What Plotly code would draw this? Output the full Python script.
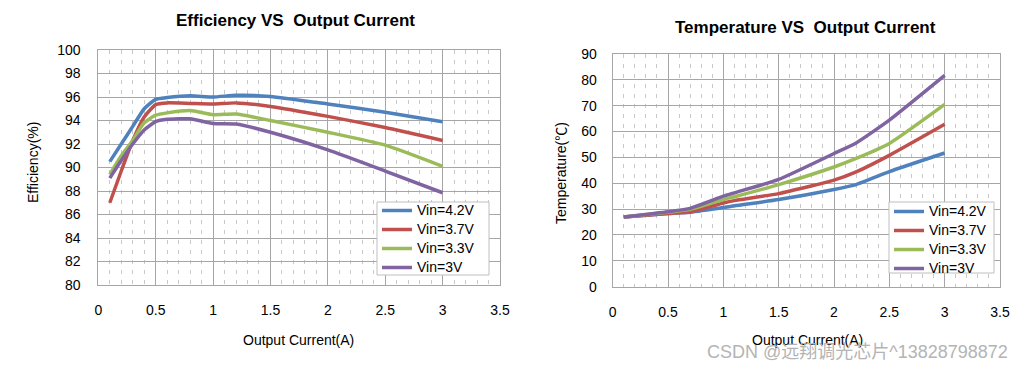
import plotly.graph_objects as go

# ---------------- data ----------------
eff_current = [0.1, 0.2, 0.3, 0.4, 0.5, 0.6, 0.8, 1.0, 1.2, 1.5, 2.0, 2.5, 3.0]
eff_42 = [90.5, 92.0, 93.5, 95.0, 95.8, 95.95, 96.1, 96.0, 96.15, 96.05, 95.4, 94.7, 93.9]
eff_37 = [87.0, 89.7, 92.3, 94.3, 95.35, 95.5, 95.45, 95.4, 95.5, 95.2, 94.35, 93.4, 92.3]
eff_33 = [89.4, 91.0, 92.3, 93.8, 94.45, 94.65, 94.85, 94.5, 94.55, 94.0, 93.0, 91.9, 90.1]
eff_30 = [89.1, 90.6, 92.0, 93.2, 93.9, 94.1, 94.15, 93.75, 93.7, 93.0, 91.5, 89.7, 87.85]

temp_current = [0.1, 0.5, 0.7, 1.0, 1.1, 1.5, 2.0, 2.2, 2.5, 3.0]
temp_42 = [27.0, 28.3, 28.8, 30.6, 31.3, 33.7, 37.6, 39.5, 44.5, 51.7]
temp_37 = [27.0, 28.3, 29.0, 32.4, 33.3, 36.0, 41.2, 44.4, 50.8, 62.8]
temp_33 = [27.0, 28.8, 29.9, 33.7, 34.8, 39.5, 46.3, 49.6, 55.4, 70.5]
temp_30 = [27.0, 29.0, 30.3, 35.0, 36.3, 41.5, 51.5, 55.6, 64.4, 81.7]

series_names = ["Vin=4.2V", "Vin=3.7V", "Vin=3.3V", "Vin=3V"]
series_colors = ["#4F81BD", "#C0504D", "#9BBB59", "#8064A2"]
x_ticks = [0, 0.5, 1, 1.5, 2, 2.5, 3, 3.5]
x_tick_labels = ["0", "0.5", "1", "1.5", "2", "2.5", "3", "3.5"]

FONT = "Arial, Liberation Sans, sans-serif"
W, H = 1025, 371

fig = go.Figure()

def legend_label(name):
    return '<span style="font-size:14px">' + name + "</span>"

for name, col, ys in zip(series_names, series_colors, [eff_42, eff_37, eff_33, eff_30]):
    fig.add_trace(go.Scatter(x=eff_current, y=ys, name=legend_label(name), mode="lines",
                             line=dict(color=col, width=3.5, shape="spline", smoothing=0.5),
                             xaxis="x", yaxis="y", legend="legend"))
for name, col, ys in zip(series_names, series_colors, [temp_42, temp_37, temp_33, temp_30]):
    fig.add_trace(go.Scatter(x=temp_current, y=ys, name=legend_label(name), mode="lines",
                             line=dict(color=col, width=3.5, shape="spline", smoothing=0.5),
                             xaxis="x2", yaxis="y2", legend="legend2"))

def xaxis(domain, anchor):
    return dict(domain=domain, anchor=anchor, range=[0, 3.5], tickvals=x_ticks,
                ticktext=x_tick_labels, showgrid=True, gridcolor="#A6A6A6", gridwidth=1,
                showline=True, linecolor="#A6A6A6", mirror=True, zeroline=False,
                ticks="", ticklabelstandoff=12, automargin=False,
                tickfont=dict(family=FONT, size=14, color="#000"),
                minor=dict(dtick=0.1, tick0=0, showgrid=True, gridcolor="#C8C8C8",
                           griddash="4px,6px", gridwidth=1))

def yaxis(domain, anchor, rng, dtick, standoff):
    return dict(domain=domain, anchor=anchor, range=rng, dtick=dtick, showgrid=True,
                gridcolor="#A6A6A6", gridwidth=1, showline=True, linecolor="#A6A6A6",
                mirror=True, zeroline=False, ticks="", ticklabelstandoff=standoff,
                automargin=False,
                tickfont=dict(family=FONT, size=14, color="#000"))

legend_style = dict(xanchor="left", yanchor="top", bgcolor="rgba(0,0,0,0)",
                    borderwidth=0, font=dict(family=FONT, size=12, color="#000"),
                    itemwidth=30, tracegroupgap=0)

fig.update_layout(
    width=W, height=H, margin=dict(l=0, r=0, t=0, b=0, pad=0, autoexpand=False),
    paper_bgcolor="white", plot_bgcolor="white",
    xaxis=xaxis([98.3 / W, 500 / W], "y"),
    yaxis=yaxis([1 - 285 / H, 1 - 50 / H], "x", [80, 100], 2, 14),
    xaxis2=xaxis([612.7 / W, 1000 / W], "y2"),
    yaxis2=yaxis([1 - 286.7 / H, 1 - 54 / H], "x2", [0, 90], 10, 12),
    legend=dict(x=377 / W, y=1 - 196 / H, **legend_style),
    legend2=dict(x=889 / W, y=1 - 197 / H, **legend_style),
    showlegend=True,
)

# legend frames (white boxes hiding the lines beneath, as in the reference)
for x0, x1, y0, y1 in [(377, 489, 202, 275), (889, 994, 202, 273)]:
    fig.add_shape(type="rect", xref="paper", yref="paper", layer="above",
                  x0=x0 / W, x1=x1 / W, y0=1 - y1 / H, y1=1 - y0 / H,
                  fillcolor="white", line=dict(color="#BFBFBF", width=1))

ann = [
    dict(text="<b>Efficiency VS  Output Current</b>", x=295, y=21, size=17),
    dict(text="<b>Temperature VS  Output Current</b>", x=805, y=27, size=17),
    dict(text="Output Current(A)", x=298, y=340, size=14),
    dict(text="Output Current(A)", x=807, y=340, size=14),
]
for a in ann:
    fig.add_annotation(text=a["text"], x=a["x"] / W, y=1 - a["y"] / H, xref="paper", yref="paper",
                       showarrow=False, xanchor="center", yanchor="middle",
                       font=dict(family=FONT, size=a["size"], color="#000"))
fig.add_annotation(text="Efficiency(%)", x=33 / W, y=1 - 163 / H, xref="paper", yref="paper",
                   showarrow=False, textangle=-90, xanchor="center", yanchor="middle",
                   font=dict(family=FONT, size=14, color="#000"))
fig.add_annotation(text="Temperature(℃)", x=561 / W, y=1 - 173 / H, xref="paper", yref="paper",
                   showarrow=False, textangle=-90, xanchor="center", yanchor="middle",
                   font=dict(family=FONT + ", Noto Sans CJK SC", size=14, color="#000"))
fig.add_annotation(text="CSDN @远翔调光芯片^13828798872", x=1010 / W, y=1 - 352 / H,
                   xref="paper", yref="paper", showarrow=False, xanchor="right",
                   yanchor="middle",
                   font=dict(family="Arial, Liberation Sans, Noto Sans CJK SC", size=18,
                             color="#B4B4B4"))

fig.write_html("out.html", config={"displayModeBar": False},
               post_script="document.body.style.margin='0';document.body.style.overflow='hidden';")
